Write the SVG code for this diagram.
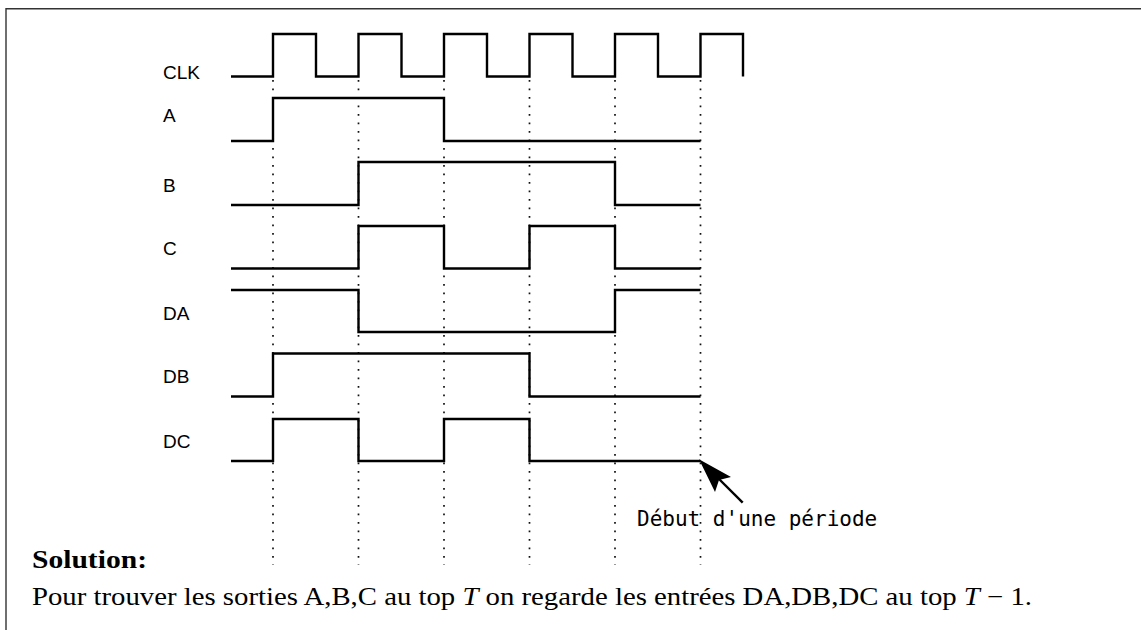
<svg xmlns="http://www.w3.org/2000/svg" width="1141" height="630" viewBox="0 0 1141 630">
<style>
.wave{fill:none;stroke:#000;stroke-width:2.4;stroke-linejoin:miter;stroke-linecap:butt}
.guide{stroke:#111;stroke-width:1.7;stroke-dasharray:1.7 6.8}
.lbl{font-family:"Liberation Sans",Arial,sans-serif;font-size:19px;fill:#000}
.mono{font-family:"DejaVu Sans Mono","Liberation Mono",monospace;font-size:21px;fill:#000}
.serif{font-family:"Liberation Serif","Times New Roman",serif;fill:#000}
</style>
<rect width="1141" height="630" fill="#fff"/>
<path d="M6,630 V8.7 H1141" fill="none" stroke="#333" stroke-width="1.4"/>
<g id="guides">
<line class="guide" x1="273" y1="80" x2="273" y2="565"/>
<line class="guide" x1="358.5" y1="80" x2="358.5" y2="565"/>
<line class="guide" x1="444" y1="80" x2="444" y2="565"/>
<line class="guide" x1="529.5" y1="80" x2="529.5" y2="565"/>
<line class="guide" x1="615" y1="80" x2="615" y2="565"/>
<line class="guide" x1="700.5" y1="80" x2="700.5" y2="565"/>
</g>
<g id="clk">
<text class="lbl" x="163" y="79">CLK</text>
<path class="wave" d="M231,76.5 H273 V34 H316 V76.5 H358.5 V34 H401.5 V76.5 H444 V34 H487 V76.5 H529.5 V34 H572.5 V76.5 H615 V34 H658 V76.5 H700.5 V34 H743 V76.5"/>
</g>
<g id="sigA">
<text class="lbl" x="163" y="122">A</text>
<path class="wave" d="M231,141 H273 V98 H444 V141 H700.5"/>
</g>
<g id="sigB">
<text class="lbl" x="163" y="192">B</text>
<path class="wave" d="M231,205 H358.5 V162 H615 V205 H700.5"/>
</g>
<g id="sigC">
<text class="lbl" x="163" y="255">C</text>
<path class="wave" d="M231,268.5 H358.5 V226 H444 V268.5 H529.5 V226 H615 V268.5 H700.5"/>
</g>
<g id="sigDA">
<text class="lbl" x="163" y="320">DA</text>
<path class="wave" d="M231,290 H358.5 V332 H615 V290 H700.5"/>
</g>
<g id="sigDB">
<text class="lbl" x="163" y="383">DB</text>
<path class="wave" d="M231,396.5 H273 V353.5 H529.5 V396.5 H700.5"/>
</g>
<g id="sigDC">
<text class="lbl" x="163" y="448">DC</text>
<path class="wave" d="M231,461 H273 V419 H358.5 V461 H444 V419 H529.5 V461 H700.5"/>
</g>
<g id="connectors">
<line x1="742.7" y1="502.7" x2="718" y2="478" stroke="#000" stroke-width="2.4"/>
<polygon points="699,459.3 731,477 719,480 715,492" fill="#000"/>
</g>
<g id="note">
<text class="mono" x="637" y="526">Début d'une période</text>
</g>
<g id="solution">
<text class="serif" x="32" y="568" font-size="26" font-weight="bold" textLength="115" lengthAdjust="spacingAndGlyphs">Solution:</text>
<text class="serif" x="32" y="605" font-size="25" textLength="1000" lengthAdjust="spacingAndGlyphs">Pour trouver les sorties A,B,C au top <tspan font-style="italic">T</tspan> on regarde les entrées DA,DB,DC au top <tspan font-style="italic">T</tspan> − 1.</text>
</g>
</svg>
